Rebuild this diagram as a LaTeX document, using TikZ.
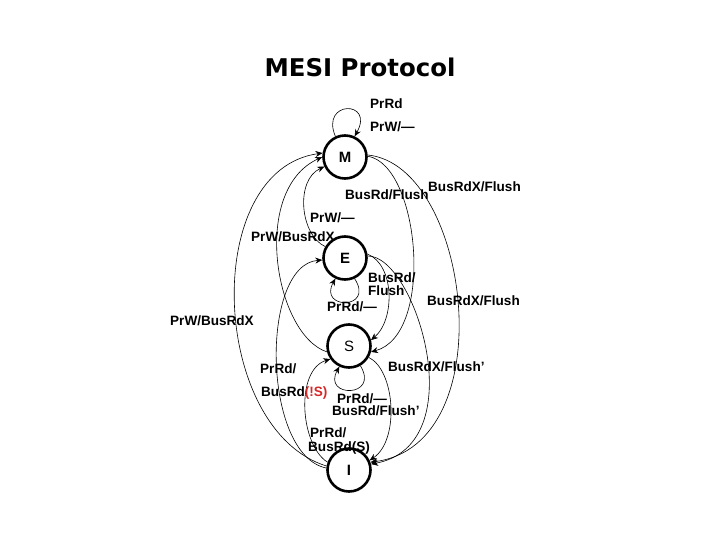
\documentclass[tikz,border=0pt]{standalone}
\usepackage{fontspec}
\setmainfont{Liberation Sans}
\newfontfamily\titlefont{DejaVu Sans}
\usetikzlibrary{arrows.meta}
\definecolor{mesired}{RGB}{214,40,40}

\begin{document}
\begin{tikzpicture}[x=1bp,y=-1bp,
  state/.style={draw,circle,line width=2.6bp,minimum size=43bp,inner sep=0pt,font=\bfseries\fontsize{15}{15}\selectfont},
  trans/.style={line width=0.6bp,-{Stealth[length=7bp,width=6bp]}},
  lbl/.style={anchor=base west,inner sep=0pt,font=\bfseries\fontsize{13.6}{14}\selectfont}]

\useasboundingbox (0,0) rectangle (720,540); % Slide area

\node[anchor=base,font=\titlefont\bfseries\fontsize{24.5}{25}\selectfont] (title) at (360,77) {MESI Protocol}; % Title

% States
\node[state] (M) at (345,157) {M};
\node[state] (E) at (345,258) {E};
\node[state,font=\fontsize{15}{15}\selectfont] (S) at (349,346) {S};
\node[state] (I) at (349,470) {I};

% Self loops
\draw[trans] (M.115) .. controls (320,100) and (375,100) .. (M.65); % M stays M
\draw[trans] (E.-65) .. controls (375,310) and (318,310) .. (E.-115); % E stays E
\draw[trans] (S.-60) .. controls (380,398) and (322,398) .. (S.-115); % S stays S

% Processor side (left)
\draw[trans] (I.170) .. controls (210,430) and (200,170) .. (M.170); % I to M
\draw[trans] (S.195) .. controls (275,335) and (250,190) .. (M.180); % S to M
\draw[trans] (E.150) .. controls (300,235) and (295,180) .. (M.205); % E to M
\draw[trans] (I.175) .. controls (262,455) and (260,265) .. (E.185); % I to E
\draw[trans] (I.160) .. controls (300,445) and (295,370) .. (S.215); % I to S

% Bus side (right)
\draw[trans] (M.2) .. controls (420,165) and (435,335) .. (S.-15); % M to S
\draw[trans] (M.5) .. controls (470,165) and (505,445) .. (I.20); % M to I
\draw[trans] (E.10) .. controls (395,265) and (395,320) .. (S.15); % E to S
\draw[trans] (E.5) .. controls (415,255) and (475,445) .. (I.15); % E to I
\draw[trans] (S.-30) .. controls (395,370) and (400,440) .. (I.25); % S to I

% Labels
\node[lbl] (mprrd) at (370,109) {PrRd};
\node[lbl] (mprw) at (370,132) {PrW/—};
\node[lbl] (msbus) at (345,200) {BusRd/Flush};
\node[lbl] (mibus) at (428,192) {BusRdX/Flush};
\node[lbl] (emprw) at (310,223) {PrW/—};
\node[lbl] (smprw) at (251,242) {PrW/BusRdX};
\node[lbl] (esbus) at (368,283) {BusRd/};
\node[lbl] (esflush) at (368,295) {Flush};
\node[lbl] (eprrd) at (327,311) {PrRd/—};
\node[lbl] (eibus) at (427,305) {BusRdX/Flush};
\node[lbl] (imprw) at (170,325) {PrW/BusRdX};
\node[lbl] (ieprrd) at (260,373) {PrRd/};
\node[lbl] (iebus) at (261,396) {BusRd\textcolor{mesired}{(!S)}};
\node[lbl] (sibus) at (388,371) {BusRdX/Flush'};
\node[lbl] (sprrd) at (337,403) {PrRd/—};
\node[lbl] (sbus) at (332,415) {BusRd/Flush'};
\node[lbl] (isprrd) at (310,437) {PrRd/};
\node[lbl] (isbus) at (308,451) {BusRd(S)};

\end{tikzpicture}
\end{document}
